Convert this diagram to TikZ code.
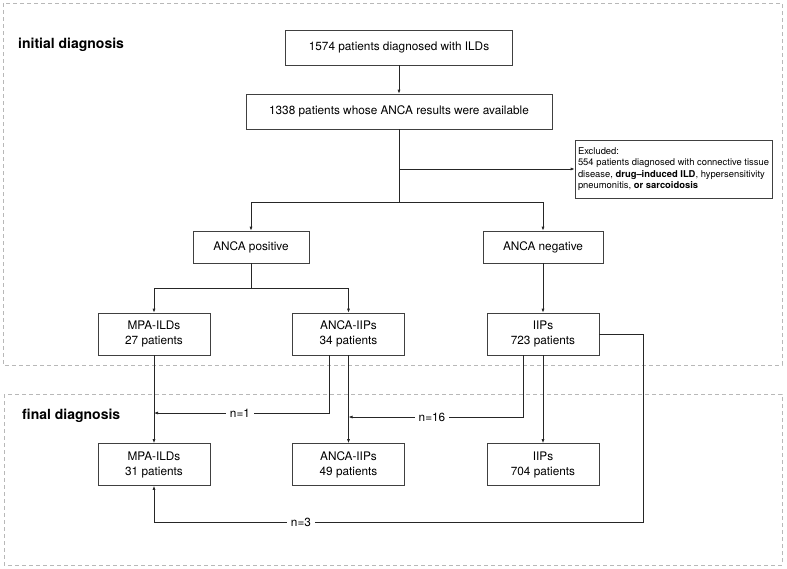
\documentclass[tikz,border=0pt]{standalone}
\usepackage{fontspec}
\setmainfont{TeX Gyre Heros}
\usetikzlibrary{arrows.meta}

\begin{document}
\begin{tikzpicture}[x=1pt,y=1pt]
		\tikzstyle{every node}+=[inner sep=0pt, font=\fontsize{11.8}{15}\selectfont]
		\tikzstyle{box}=[draw=black!75, line width=0.7pt, minimum height=35, align=center]
		\tikzstyle{pbox}=[box, minimum width=112, minimum height=42]
		\tikzstyle{link}=[draw=black!85, line width=0.7pt]
		\tikzstyle{arr}=[link, -{Latex[length=4pt,width=3pt]}]
		\tikzstyle{frame}=[draw=black!28, line width=0.8pt, dash pattern=on 4pt off 3pt]
		\tikzstyle{tag}=[fill=white, inner xsep=4pt, inner ysep=1pt]
		\tikzstyle{head}=[font=\fontsize{14}{16}\selectfont\bfseries, anchor=west]
		\useasboundingbox (0,0) rectangle (787,-568);
		\draw [frame] (3,-3) rectangle (782,-365);
		\draw [frame] (4,-394) rectangle (782,-565);
		\node [head] (initial) at (18,-45) {initial diagnosis};
		\node [head] (final) at (22,-416) {final diagnosis};
		\node [box, minimum width=227] (ild) at (399,-47.5) {1574 patients diagnosed with ILDs};
		\node [box, minimum width=306] (avail) at (399,-111.5) {1338 patients whose ANCA results were available};
		\node [box, minimum width=197, minimum height=58, align=left, font=\fontsize{9.4}{11.4}\selectfont] (excl) at (673.5,-169) {Excluded:\\554 patients diagnosed with connective tissue\\disease, \textbf{drug–induced ILD}, hypersensitivity\\pneumonitis, \textbf{or sarcoidosis}};
		\node [box, minimum width=116, minimum height=32] (pos) at (251,-247) {ANCA positive};
		\node [box, minimum width=120, minimum height=32] (neg) at (543,-247) {ANCA negative};
		\node [pbox] (mpa1) at (154,-334) {MPA-ILDs\\27 patients};
		\node [pbox] (anca1) at (348.5,-334) {ANCA-IIPs\\34 patients};
		\node [pbox] (iip1) at (543,-334) {IIPs\\723 patients};
		\node [pbox] (mpa2) at (154,-464.5) {MPA-ILDs\\31 patients};
		\node [pbox] (anca2) at (348.5,-464.5) {ANCA-IIPs\\49 patients};
		\node [pbox] (iip2) at (543,-464.5) {IIPs\\704 patients};
		\coordinate (split) at (399,-202);
		\coordinate (psplit) at (251,-288);
		\coordinate (c1) at (329,-413);
		\coordinate (c16) at (523,-417);
		\coordinate (c3) at (643,-522);
		\draw [arr] (ild) -- (avail);
		\draw [link] (avail) -- (split);
		\draw [arr] (avail.south |- excl.west) -- (excl);
		\draw [link] (pos.north |- split) -- (neg.north |- split);
		\draw [arr] (pos.north |- split) -- (pos);
		\draw [arr] (neg.north |- split) -- (neg);
		\draw [link] (pos) -- (psplit);
		\draw [link] (mpa1.north |- psplit) -- (anca1.north |- psplit);
		\draw [arr] (mpa1.north |- psplit) -- (mpa1);
		\draw [arr] (anca1.north |- psplit) -- (anca1);
		\draw [arr] (neg) -- (iip1);
		\draw [arr] (mpa1) -- (mpa2);
		\draw [arr] (anca1) -- (anca2);
		\draw [arr] (iip1) -- (iip2);
		\draw [arr] (anca1.south -| c1) -- (c1) -- (mpa1.south |- c1);
		\node [tag] (n1) at (240,-413) {n=1};
		\draw [arr] (iip1.south -| c16) -- (c16) -- (anca1.south |- c16);
		\node [tag] (n16) at (432,-417) {n=16};
		\draw [arr] (iip1.east) -| (c3) -| (mpa2.south);
		\node [tag] (n3) at (301,-522) {n=3};
\end{tikzpicture}
\end{document}
